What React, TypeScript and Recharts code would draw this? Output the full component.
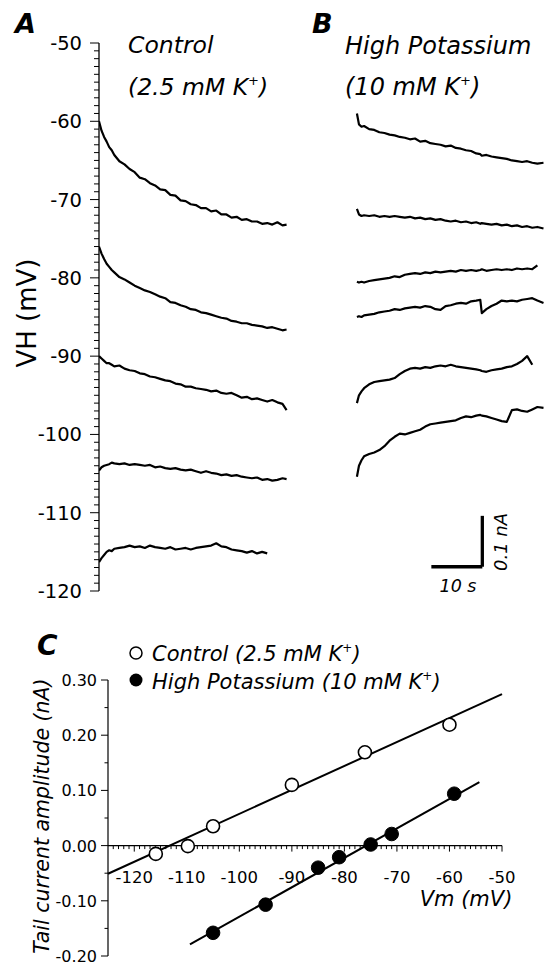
import React from 'react';
import { LineChart, ComposedChart, Line, Scatter, XAxis, YAxis, ReferenceLine } from 'recharts';

// ---------- Panel A / B : current traces at holding potentials ----------
const TIME_A = [0, 0.5, 1, 1.5, 2, 2.5, 3, 4, 5, 6, 7, 8, 9, 10, 11, 12, 13, 14, 15, 16, 17, 18, 19, 20, 21, 22, 23, 24, 25, 26, 27, 28, 29, 30, 31, 32, 33, 34, 35, 36, 36.8];
const TRACE_A1 = [-60.0, -61.2, -62.0, -62.6, -63.3, -63.7, -64.3, -65.1, -65.5, -66.1, -66.5, -67.2, -67.4, -67.9, -68.2, -68.7, -68.8, -69.4, -69.5, -70.1, -70.2, -70.6, -70.7, -71.1, -71.1, -71.5, -71.4, -71.9, -71.9, -72.3, -72.2, -72.6, -72.5, -72.8, -72.8, -73.1, -73.0, -73.2, -72.9, -73.3, -73.2];
const TRACE_A2 = [-76.0, -76.9, -77.6, -78.2, -78.6, -79.0, -79.3, -79.9, -80.2, -80.6, -81.0, -81.3, -81.6, -81.8, -82.1, -82.4, -82.6, -83.1, -83.2, -83.5, -83.7, -84.0, -84.1, -84.4, -84.5, -84.7, -84.9, -85.1, -85.2, -85.5, -85.6, -85.8, -85.8, -86.0, -86.1, -86.2, -86.4, -86.3, -86.5, -86.7, -86.6];
const TRACE_A3 = [-90.0, -90.3, -90.6, -90.9, -90.9, -91.1, -91.3, -91.2, -91.6, -91.8, -91.9, -92.2, -92.3, -92.6, -92.7, -92.9, -93.1, -93.2, -93.5, -93.6, -93.9, -93.9, -94.1, -94.2, -94.3, -94.5, -94.4, -94.7, -94.8, -94.7, -95.0, -95.3, -95.2, -95.5, -95.4, -95.6, -95.8, -95.6, -95.9, -96.1, -96.9];
const TRACE_A4 = [-104.6, -104.2, -104.0, -103.9, -103.8, -103.6, -103.7, -103.8, -103.7, -103.9, -103.8, -103.9, -104.0, -103.9, -104.2, -104.1, -104.3, -104.4, -104.3, -104.5, -104.6, -104.5, -104.7, -104.9, -104.7, -104.9, -105.0, -105.2, -105.1, -105.3, -105.2, -105.4, -105.5, -105.6, -105.5, -105.8, -105.7, -105.9, -105.8, -105.6, -105.7];
const TRACE_A5 = [-116.3, -115.8, -115.4, -115.0, -114.8, -114.9, -114.6, -114.5, -114.4, -114.2, -114.4, -114.3, -114.5, -114.2, -114.4, -114.5, -114.6, -114.4, -114.7, -114.6, -114.5, -114.7, -114.5, -114.4, -114.3, -114.2, -113.9, -114.3, -114.4, -114.7, -114.8, -114.9, -115.1, -114.9, -115.2, -115.0, -115.2];

const TIME_B = [50.6, 51.0, 51.5, 52, 53, 54, 55, 56, 57, 58, 59, 60, 61, 62, 63, 64, 65, 66, 67, 68, 69, 70, 71, 72, 73, 74, 74.8, 75.1, 76, 77, 78, 79, 80, 81, 82, 83, 84, 85, 86, 87.2];
const TRACE_B1 = [-59.0, -60.4, -60.7, -60.6, -61.0, -61.1, -61.4, -61.5, -61.7, -61.8, -62.0, -62.1, -62.3, -62.2, -62.6, -62.5, -62.8, -62.9, -63.0, -63.2, -63.1, -63.4, -63.5, -63.7, -63.8, -64.1, -64.2, -64.4, -64.3, -64.5, -64.6, -64.7, -64.8, -65.0, -65.1, -65.2, -65.1, -65.3, -65.4, -65.3];
const TRACE_B2 = [-71.2, -71.9, -72.1, -72.0, -72.1, -72.0, -72.2, -72.1, -72.2, -72.1, -72.2, -72.3, -72.2, -72.4, -72.3, -72.5, -72.4, -72.6, -72.5, -72.7, -72.8, -72.7, -72.9, -72.8, -73.0, -72.9, -73.1, -73.0, -73.1, -73.2, -73.1, -73.3, -73.2, -73.4, -73.3, -73.5, -73.4, -73.6, -73.5, -73.7];
const TRACE_B3 = [-80.5, -80.6, -80.5, -80.6, -80.4, -80.3, -80.2, -80.1, -80.0, -79.8, -79.9, -79.6, -79.5, -79.4, -79.5, -79.3, -79.4, -79.2, -79.3, -79.2, -79.1, -79.2, -79.0, -79.1, -79.0, -79.1, -79.0, -78.9, -79.1, -79.0, -78.9, -79.0, -78.9, -79.0, -78.8, -78.9, -78.8, -78.9, -78.4];
const TRACE_B4 = [-85.0, -84.9, -85.0, -84.8, -84.7, -84.6, -84.4, -84.3, -84.2, -84.0, -84.1, -83.9, -83.8, -83.7, -83.8, -83.6, -83.7, -84.0, -84.1, -83.6, -83.5, -83.3, -83.2, -83.3, -83.0, -82.9, -82.8, -84.5, -84.0, -83.6, -83.3, -82.9, -83.0, -82.9, -83.0, -82.8, -82.7, -82.6, -82.9, -83.2];
const TRACE_B5 = [-96.0, -95.0, -94.5, -94.1, -93.6, -93.3, -93.2, -93.1, -93.0, -92.8, -92.3, -91.9, -91.6, -91.5, -91.6, -91.4, -91.5, -91.3, -91.2, -91.3, -91.1, -91.3, -91.4, -91.5, -91.6, -91.7, -91.8, -91.9, -92.0, -91.8, -91.7, -91.6, -91.4, -91.3, -91.0, -90.6, -90.0, -91.1];
const TRACE_B6 = [-105.4, -104.0, -103.3, -102.8, -102.5, -102.3, -102.0, -101.5, -100.8, -100.3, -99.9, -100.0, -99.8, -99.6, -99.4, -99.0, -98.7, -98.6, -98.5, -98.4, -98.3, -98.2, -97.9, -97.7, -97.8, -97.6, -97.5, -97.6, -97.7, -97.9, -98.1, -98.3, -98.4, -96.9, -96.8, -97.0, -97.1, -96.8, -96.5, -96.6];

const VH_LABELS = [-50, -60, -70, -80, -90, -100, -110, -120];
const VH_TICKS = Array.from({ length: 71 }, (_, i) => -120 + i);

// scale bar: 10 s horizontal, 0.1 nA (= 6.5 mV-equivalent on this axis) vertical
const SCALE_T = [65.2, 75.2];
const SCALE_V = [-116.9, -110.4];

// ---------- Panel C : tail current vs Vm ----------
const CONTROL_VM = [-115.9, -109.8, -105.0, -90.0, -76.1, -60.0];
const CONTROL_AMP = [-0.015, -0.001, 0.035, 0.11, 0.169, 0.219];
const HIGHK_VM = [-105.0, -95.0, -85.0, -81.0, -75.0, -71.0, -59.1];
const HIGHK_AMP = [-0.158, -0.107, -0.040, -0.021, 0.002, 0.021, 0.094];
const CONTROL_FIT_VM = [-125, -50];
const CONTROL_FIT_AMP = [-0.051, 0.2745];
const HIGHK_FIT_VM = [-109.4, -54.3];
const HIGHK_FIT_AMP = [-0.179, 0.115];

const VM_LABELS = [-120, -110, -100, -90, -80, -70, -60, -50];
const VM_TICKS = Array.from({ length: 75 }, (_, i) => -124 + i);
const AMP_TICKS = [0.3, 0.25, 0.2, 0.15, 0.1, 0.05, 0, -0.05, -0.1, -0.15, -0.2];
const AMP_LABELS = [0.3, 0.2, 0.1, 0, -0.1, -0.2];

const FONT = 'DejaVu Sans';

const zip = (xs: number[], ys: number[], kx: string, ky: string) =>
  ys.map((y, i) => ({ [kx]: xs[i], [ky]: y }));

const TRACES = [
  zip(TIME_A, TRACE_A1, 't', 'v'),
  zip(TIME_A, TRACE_A2, 't', 'v'),
  zip(TIME_A, TRACE_A3, 't', 'v'),
  zip(TIME_A, TRACE_A4, 't', 'v'),
  zip(TIME_A, TRACE_A5, 't', 'v'),
  zip(TIME_B, TRACE_B1, 't', 'v'),
  zip(TIME_B, TRACE_B2, 't', 'v'),
  zip(TIME_B, TRACE_B3, 't', 'v'),
  zip(TIME_B, TRACE_B4, 't', 'v'),
  zip(TIME_B, TRACE_B5, 't', 'v'),
  zip(TIME_B, TRACE_B6, 't', 'v'),
];

const CONTROL = zip(CONTROL_VM, CONTROL_AMP, 'x', 'y');
const HIGHK = zip(HIGHK_VM, HIGHK_AMP, 'x', 'y');
const CONTROL_FIT = zip(CONTROL_FIT_VM, CONTROL_FIT_AMP, 'x', 'y');
const HIGHK_FIT = zip(HIGHK_FIT_VM, HIGHK_FIT_AMP, 'x', 'y');
const VM_TICK_DATA = VM_TICKS.map((v) => ({ x: v, y: 0 }));

function VHTick(props: any) {
  const { x, y, payload } = props;
  const v = payload.value as number;
  const major = VH_LABELS.includes(v);
  return (
    <g>
      <line x1={x - (major ? 9 : 5)} x2={x} y1={y} y2={y} stroke="#000" strokeWidth={1} />
      {major && (
        <text x={x - 17} y={y} dy={7} textAnchor="end" fontSize={19.5} fontFamily={FONT} fill="#000">
          {v}
        </text>
      )}
    </g>
  );
}

function AmpTick(props: any) {
  const { x, y, payload } = props;
  const v = payload.value as number;
  const major = AMP_LABELS.some((m) => Math.abs(m - v) < 1e-9);
  return (
    <g>
      <line x1={x - (major ? 7 : 3.5)} x2={x} y1={y} y2={y} stroke="#000" strokeWidth={1} />
      {major && (
        <text x={x - 11} y={y} dy={6} textAnchor="end" fontSize={16} fontFamily={FONT} fill="#000">
          {Math.abs(v) < 1e-9 ? '0.00' : v.toFixed(2)}
        </text>
      )}
    </g>
  );
}

function VmTick(props: any) {
  const { cx, cy, payload } = props;
  const v = payload.x as number;
  const major = VM_LABELS.includes(v);
  return (
    <g>
      <line x1={cx} x2={cx} y1={cy} y2={cy + (major ? 6 : 3.5)} stroke="#000" strokeWidth={1} />
      {major && (
        <text x={cx} y={cy + 37} textAnchor="middle" fontSize={16.5} fontFamily={FONT} fill="#000">
          {v}
        </text>
      )}
    </g>
  );
}

const OpenDot = (p: any) => <circle cx={p.cx} cy={p.cy} r={6.5} fill="#fff" stroke="#000" strokeWidth={1.6} />;
const FilledDot = (p: any) => <circle cx={p.cx} cy={p.cy} r={6.8} fill="#000" stroke="#000" strokeWidth={1} />;

export default function App() {
  return (
    <div style={{ position: 'absolute', left: 0, top: 0, width: 544, height: 965, overflow: 'hidden', background: '#fff' }}>
      <div style={{ position: 'absolute', left: 0, top: 0 }}>
        <LineChart width={544} height={620} margin={{ top: 43, right: 0, bottom: 29, left: 0 }}>
          <XAxis type="number" dataKey="t" domain={[0, 87.3]} hide allowDataOverflow />
          <YAxis
            type="number"
            domain={[-120, -50]}
            ticks={VH_TICKS}
            interval={0}
            width={99}
            allowDataOverflow
            axisLine={{ stroke: '#000', strokeWidth: 1.3 }}
            tickLine={false}
            tickSize={0}
            tickMargin={0}
            tick={(p: any) => <VHTick {...p} />}
          />
          {TRACES.map((d, i) => (
            <Line
              key={i}
              data={d}
              dataKey="v"
              type="linear"
              stroke="#000"
              strokeWidth={2.2}
              strokeLinejoin="round"
              dot={false}
              activeDot={false}
              isAnimationActive={false}
            />
          ))}
          <ReferenceLine
            segment={[{ x: SCALE_T[0], y: SCALE_V[0] }, { x: SCALE_T[1], y: SCALE_V[0] }]}
            stroke="#000"
            strokeWidth={3.3}
          />
          <ReferenceLine
            segment={[{ x: SCALE_T[1], y: SCALE_V[0] }, { x: SCALE_T[1], y: SCALE_V[1] }]}
            stroke="#000"
            strokeWidth={3.3}
          />
        </LineChart>
      </div>

      <div style={{ position: 'absolute', left: 0, top: 620 }}>
        <ComposedChart width={544} height={345} margin={{ top: 60, right: 42, bottom: 9, left: 0 }}>
          <XAxis type="number" dataKey="x" domain={[-125, -50]} hide />
          <YAxis
            type="number"
            dataKey="y"
            domain={[-0.2, 0.3]}
            ticks={AMP_TICKS}
            interval={0}
            width={108}
            axisLine={{ stroke: '#000', strokeWidth: 1.2 }}
            tickLine={false}
            tickSize={0}
            tickMargin={0}
            tick={(p: any) => <AmpTick {...p} />}
          />
          <ReferenceLine y={0} stroke="#000" strokeWidth={1.2} />
          <Scatter data={VM_TICK_DATA} shape={(p: any) => <VmTick {...p} />} isAnimationActive={false} />
          <Line data={CONTROL_FIT} dataKey="y" type="linear" stroke="#000" strokeWidth={2} dot={false} activeDot={false} isAnimationActive={false} />
          <Line data={HIGHK_FIT} dataKey="y" type="linear" stroke="#000" strokeWidth={2} dot={false} activeDot={false} isAnimationActive={false} />
          <Scatter data={CONTROL} shape={OpenDot} isAnimationActive={false} />
          <Scatter data={HIGHK} shape={FilledDot} isAnimationActive={false} />
        </ComposedChart>
      </div>

      <svg
        width={544}
        height={965}
        style={{ position: 'absolute', left: 0, top: 0, pointerEvents: 'none' }}
        fontFamily={FONT}
        fill="#000"
      >
        <text x={15} y={33} fontSize={27} fontWeight="bold" fontStyle="italic">A</text>
        <text x={312} y={33} fontSize={27} fontWeight="bold" fontStyle="italic">B</text>
        <text x={128} y={53} fontSize={23.5} fontStyle="italic">Control</text>
        <text x={128} y={95} fontSize={23.5} fontStyle="italic">
          (2.5 mM K<tspan dy={-10} fontSize={13}>+</tspan><tspan dy={10}>)</tspan>
        </text>
        <text x={345} y={54} fontSize={24} fontStyle="italic">High Potassium</text>
        <text x={345} y={95} fontSize={24} fontStyle="italic">
          (10 mM K<tspan dy={-10} fontSize={13}>+</tspan><tspan dy={10}>)</tspan>
        </text>
        <text transform="translate(36,313) rotate(-90)" textAnchor="middle" fontSize={26}>VH (mV)</text>

        <text x={458} y={592} textAnchor="middle" fontSize={17.5} fontStyle="italic">10 s</text>
        <text transform="translate(507,542) rotate(-90)" textAnchor="middle" fontSize={18} fontStyle="italic">0.1 nA</text>

        <text x={37} y={655} fontSize={28} fontWeight="bold" fontStyle="italic">C</text>
        <circle cx={136} cy={653} r={6} fill="#fff" stroke="#000" strokeWidth={1.5} />
        <circle cx={136} cy={680} r={6.5} fill="#000" />
        <text x={152} y={661} fontSize={21} fontStyle="italic">
          Control (2.5 mM K<tspan dy={-9} fontSize={12}>+</tspan><tspan dy={9}>)</tspan>
        </text>
        <text x={152} y={689} fontSize={21} fontStyle="italic">
          High Potassium (10 mM K<tspan dy={-9} fontSize={12}>+</tspan><tspan dy={9}>)</tspan>
        </text>
        <text transform="translate(49,816) rotate(-90)" textAnchor="middle" fontSize={20.5} fontStyle="italic">
          Tail current amplitude (nA)
        </text>
        <text x={466} y={906} textAnchor="middle" fontSize={21} fontStyle="italic">Vm (mV)</text>
      </svg>
    </div>
  );
}
